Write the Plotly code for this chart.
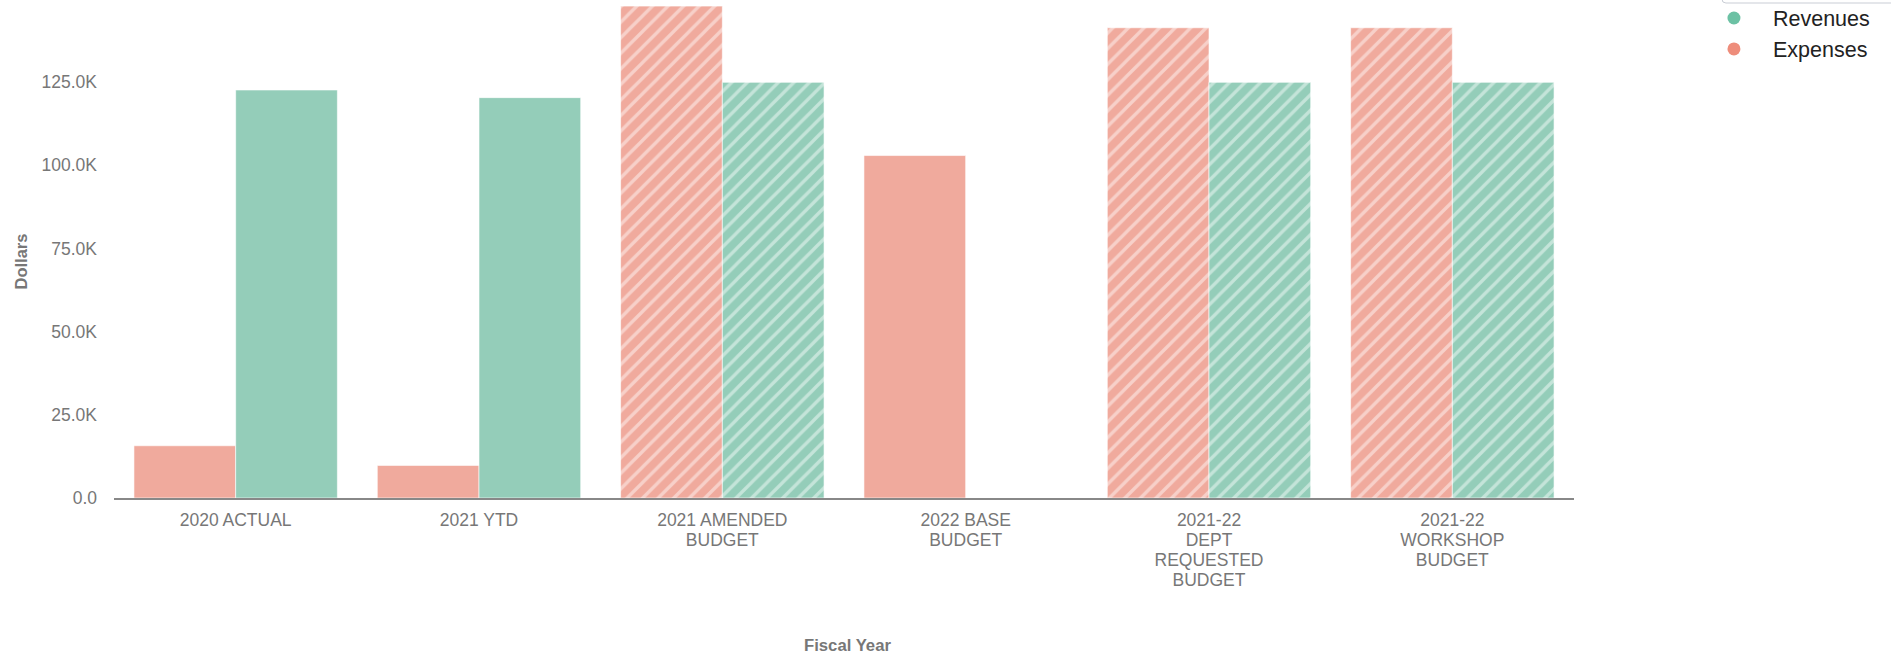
import plotly.graph_objects as go

# ---- data ----
categories = [
    "2020 ACTUAL",
    "2021 YTD",
    "2021 AMENDED<br>BUDGET",
    "2022 BASE<br>BUDGET",
    "2021-22<br>DEPT<br>REQUESTED<br>BUDGET",
    "2021-22<br>WORKSHOP<br>BUDGET",
]
expenses = [15700, 9800, 147800, 102900, 141300, 141300]
revenues = [122600, 120300, 124900, None, 124900, 124900]
hatch = ["", "", "/", "", "/", "/"]

ytick_vals = [0, 25000, 50000, 75000, 100000, 125000]
ytick_text = ["0.0", "25.0K", "50.0K", "75.0K", "100.0K", "125.0K"]

# ---- style / geometry ----
W, H = 1891, 657
PL, PR = 113.5, 1574.0
PT, PB = 0.0, 498.0
PW, PH = PR - PL, PB - PT


def px_x(px):
    return (px - PL) / PW


def px_y(py):
    return (PB - py) / PH


ORANGE_BAR = "#F0AA9D"
GREEN_BAR = "#94CDB9"
ORANGE_LEG = "#EE8D7B"
GREEN_LEG = "#6CC1A4"
GRAY = "#777777"


def big_lines(label, size=17.5):
    return "<br>".join(
        f"<span style='font-size:{size}px'>{part}</span>" for part in label.split("<br>")
    )


xtick_text = [big_lines(c) for c in categories]

fig = go.Figure()

fig.add_trace(go.Bar(
    name="Expenses", x=categories, y=expenses, showlegend=False,
    marker=dict(
        color=ORANGE_BAR,
        line=dict(color="rgba(255,255,255,0.6)", width=1),
        pattern=dict(shape=hatch, fgcolor="white", fgopacity=0.45,
                     size=11, solidity=0.3),
    ),
))
fig.add_trace(go.Bar(
    name="Revenues", x=categories, y=revenues, showlegend=False,
    marker=dict(
        color=GREEN_BAR,
        line=dict(color="rgba(255,255,255,0.6)", width=1),
        pattern=dict(shape=hatch, fgcolor="white", fgopacity=0.45,
                     size=11, solidity=0.3),
    ),
))

# legend-only entries with circle symbols
fig.add_trace(go.Scatter(
    name="Revenues", x=[None], y=[None], mode="markers",
    marker=dict(symbol="circle", size=13, color=GREEN_LEG), legendrank=1,
))
fig.add_trace(go.Scatter(
    name="Expenses", x=[None], y=[None], mode="markers",
    marker=dict(symbol="circle", size=13, color=ORANGE_LEG), legendrank=2,
))

fig.update_layout(
    width=W, height=H,
    margin=dict(l=PL, r=W - PR, t=PT, b=H - PB, pad=0, autoexpand=False),
    paper_bgcolor="white", plot_bgcolor="white",
    barmode="group", bargap=0.164, bargroupgap=0,
    font=dict(family="Liberation Sans, Arial, sans-serif", color=GRAY),
    legend=dict(
        x=px_x(1695), y=px_y(-2.5), xanchor="left", yanchor="top",
        font=dict(size=21.5, color="#222222"),
        itemwidth=68, bgcolor="rgba(0,0,0,0)",
    ),
    xaxis=dict(
        showline=True, linecolor="#888888", linewidth=2,
        showgrid=False, zeroline=False, ticks="",
        tickmode="array", tickvals=categories, ticktext=xtick_text,
        tickfont=dict(size=15.2, color=GRAY),
        ticklabelstandoff=8,
        fixedrange=True, automargin=False,
    ),
    yaxis=dict(
        range=[0, 149640],
        showline=False, showgrid=False, zeroline=False, ticks="",
        tickvals=ytick_vals, ticktext=ytick_text,
        tickfont=dict(size=17.5, color=GRAY),
        ticklabelstandoff=16,
        fixedrange=True, automargin=False,
    ),
    annotations=[
        dict(text="<b>Dollars</b>", textangle=-90, showarrow=False,
             xref="paper", yref="paper", x=px_x(20), y=px_y(262),
             xanchor="center", yanchor="middle",
             font=dict(size=16.5, color=GRAY,
                       family="Liberation Sans Narrow, Arial Narrow, sans-serif")),
        dict(text="<b>Fiscal Year</b>", showarrow=False,
             xref="paper", yref="paper", x=px_x(847), y=px_y(645),
             xanchor="center", yanchor="middle",
             font=dict(size=16.7, color=GRAY)),
    ],
    shapes=[dict(
        type="path", xref="paper", yref="paper",
        path=(f"M {px_x(1722)},{px_y(-20)} L {px_x(1722)},{px_y(-1)} "
              f"Q {px_x(1722)},{px_y(3)} {px_x(1726)},{px_y(3)} "
              f"L {px_x(1900)},{px_y(3)}"),
        line=dict(color="#C9CDD5", width=1),
    )],
)

fig.write_html("out.html", config={"displayModeBar": False},
               post_script="document.body.style.margin='0px';")
